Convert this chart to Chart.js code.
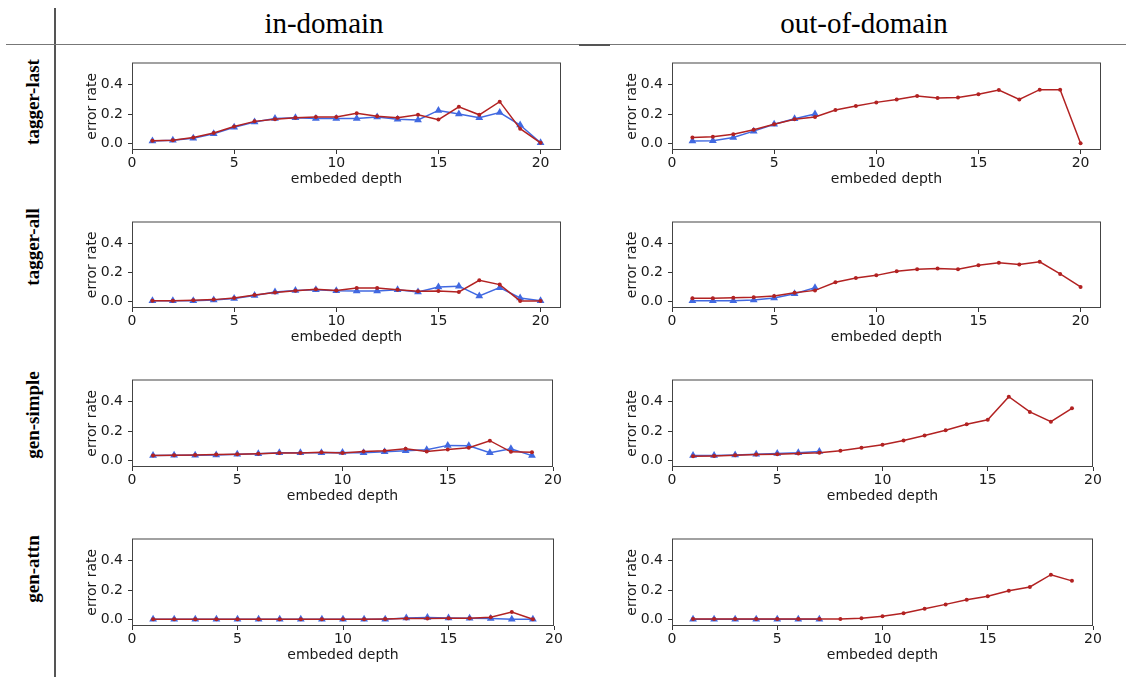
<!DOCTYPE html>
<html>
<head>
<meta charset="utf-8">
<title>error rate by embedded depth</title>
<script src="https://cdn.jsdelivr.net/npm/chart.js@4.4.1/dist/chart.umd.min.js"></script>
<style>
  html, body { margin: 0; padding: 0; background: #fff; }
  #page { position: relative; width: 1126px; height: 677px; overflow: hidden; }
  canvas { position: absolute; }
  .col-head {
    position: absolute; top: 6px; line-height: 34px;
    font-family: "Liberation Serif", "DejaVu Serif", serif; font-size: 29px; color: #000;
    transform: translateX(-50%); white-space: nowrap;
  }
  .row-head {
    position: absolute; left: 33px;
    font-family: "Liberation Serif", "DejaVu Serif", serif; font-weight: bold; font-size: 19px; color: #000;
    transform: translate(-50%, -50%) rotate(-90deg); white-space: nowrap;
  }
  .rule { position: absolute; background: #777; }
</style>
</head>
<body>
<div id="page">
  <div class="rule" style="left:54px; top:8px; width:1.5px; height:669px; background:#555;"></div>
  <div class="rule" style="left:6px; top:44px; width:1120px; height:1px;"></div>
  <div class="rule" style="left:579px; top:44px; width:31px; height:2px; background:#555;"></div>

  <div class="col-head" style="left:324px;">in-domain</div>
  <div class="col-head" style="left:864px;">out-of-domain</div>

  <div class="row-head" style="top:102px;">tagger-last</div>
  <div class="row-head" style="top:247px;">tagger-all</div>
  <div class="row-head" style="top:415px;">gen-simple</div>
  <div class="row-head" style="top:569px;">gen-attn</div>

  <!-- plot area starts 4.5px below each canvas top (point overflow padding) -->
  <canvas id="tlIn"  width="493" height="134" style="left:80px;  top:58px;"></canvas>
  <canvas id="tlOut" width="493" height="134" style="left:620px; top:58px;"></canvas>
  <canvas id="taIn"  width="493" height="133" style="left:80px;  top:217px;"></canvas>
  <canvas id="taOut" width="493" height="133" style="left:620px; top:217px;"></canvas>
  <canvas id="gsIn"  width="485" height="134" style="left:80px;  top:375px;"></canvas>
  <canvas id="gsOut" width="485" height="134" style="left:620px; top:375px;"></canvas>
  <canvas id="gaIn"  width="486" height="134" style="left:80px;  top:534px;"></canvas>
  <canvas id="gaOut" width="485" height="134" style="left:620px; top:534px;"></canvas>
</div>

<script>
// embedded depth values on the x axis
const depth20 = [1, 2, 3, 4, 5, 6, 7, 8, 9, 10, 11, 12, 13, 14, 15, 16, 17, 18, 19, 20];
const depth19 = [1, 2, 3, 4, 5, 6, 7, 8, 9, 10, 11, 12, 13, 14, 15, 16, 17, 18, 19];
const depth7 = [1, 2, 3, 4, 5, 6, 7];

const xTicks = [0, 5, 10, 15, 20];
const yTicks = [0, 0.2, 0.4];

// tagger-last
const tlInRed   = [0.018, 0.02, 0.04, 0.07, 0.115, 0.15, 0.165, 0.175, 0.18, 0.18, 0.205, 0.185, 0.175, 0.195, 0.162, 0.25, 0.195, 0.285, 0.10, 0.003];
const tlInBlue  = [0.015, 0.02, 0.035, 0.065, 0.11, 0.145, 0.17, 0.175, 0.17, 0.17, 0.17, 0.18, 0.165, 0.16, 0.225, 0.20, 0.175, 0.21, 0.125, 0.003];
const tlOutRed  = [0.04, 0.044, 0.062, 0.092, 0.13, 0.165, 0.18, 0.228, 0.255, 0.28, 0.30, 0.323, 0.31, 0.313, 0.335, 0.365, 0.30, 0.367, 0.367, 0.0];
const tlOutBlue = [0.016, 0.018, 0.04, 0.083, 0.13, 0.168, 0.20];

// tagger-all
const taInRed   = [0.005, 0.005, 0.007, 0.012, 0.023, 0.044, 0.062, 0.074, 0.083, 0.076, 0.092, 0.092, 0.08, 0.07, 0.072, 0.065, 0.146, 0.116, 0.003, 0.003];
const taInBlue  = [0.005, 0.005, 0.005, 0.01, 0.02, 0.04, 0.065, 0.075, 0.08, 0.074, 0.072, 0.072, 0.08, 0.065, 0.10, 0.105, 0.037, 0.095, 0.023, 0.005];
const taOutRed  = [0.021, 0.021, 0.025, 0.028, 0.037, 0.06, 0.076, 0.132, 0.162, 0.18, 0.208, 0.222, 0.228, 0.223, 0.25, 0.268, 0.256, 0.274, 0.19, 0.10];
const taOutBlue = [0.005, 0.005, 0.005, 0.01, 0.023, 0.053, 0.095];

// gen-simple
const gsInRed   = [0.032, 0.035, 0.037, 0.039, 0.042, 0.044, 0.049, 0.049, 0.055, 0.049, 0.06, 0.065, 0.079, 0.06, 0.074, 0.086, 0.134, 0.058, 0.055];
const gsInBlue  = [0.032, 0.035, 0.035, 0.037, 0.042, 0.044, 0.051, 0.051, 0.051, 0.053, 0.051, 0.058, 0.065, 0.072, 0.102, 0.10, 0.051, 0.079, 0.032];
const gsOutRed  = [0.028, 0.03, 0.035, 0.039, 0.042, 0.046, 0.051, 0.065, 0.086, 0.106, 0.136, 0.169, 0.206, 0.247, 0.277, 0.435, 0.331, 0.264, 0.356];
const gsOutBlue = [0.032, 0.032, 0.037, 0.042, 0.046, 0.051, 0.06];

// gen-attn
const gaInRed   = [0.001, 0.001, 0.001, 0.001, 0.001, 0.001, 0.001, 0.001, 0.001, 0.001, 0.001, 0.002, 0.005, 0.005, 0.007, 0.007, 0.014, 0.049, 0.0];
const gaInBlue  = [0.0, 0.0, 0.0, 0.0, 0.0, 0.0, 0.0, 0.0, 0.0, 0.0, 0.0, 0.0, 0.009, 0.012, 0.009, 0.007, 0.005, 0.0, 0.0];
const gaOutRed  = [0.002, 0.002, 0.002, 0.002, 0.002, 0.002, 0.002, 0.002, 0.007, 0.021, 0.042, 0.072, 0.102, 0.133, 0.158, 0.195, 0.221, 0.305, 0.263];
const gaOutBlue = [0.0, 0.0, 0.0, 0.0, 0.0, 0.0, 0.0];

const RED = '#b22222';
const BLUE = '#4169e1';
const INK = '#1a1a1a';
const FONT = { family: 'DejaVu Sans', size: 14 };

// box round the plot area, like a matplotlib axes frame
const framePlugin = {
  id: 'frame',
  afterDraw(chart) {
    const { ctx, chartArea: a } = chart;
    ctx.save();
    ctx.strokeStyle = '#444';
    ctx.lineWidth = 1;
    ctx.strokeRect(a.left + 0.5, a.top + 0.5, a.right - a.left - 1, a.bottom - a.top - 1);
    ctx.restore();
  }
};

function points(xs, ys) {
  return ys.map((v, i) => ({ x: xs[i], y: v }));
}

function drawPanel(id, redX, red, blueX, blue, xMax) {
  new Chart(document.getElementById(id), {
    type: 'line',
    data: {
      datasets: [
        {
          data: points(redX, red),
          borderColor: RED, backgroundColor: RED,
          borderWidth: 1.5, pointRadius: 2, pointBorderWidth: 0, pointStyle: 'circle'
        },
        {
          data: points(blueX, blue),
          borderColor: BLUE, backgroundColor: BLUE,
          borderWidth: 1.5, pointRadius: 4.5, pointBorderWidth: 0, pointStyle: 'triangle'
        }
      ]
    },
    options: {
      animation: false,
      responsive: false,
      devicePixelRatio: 1,
      layout: { padding: { top: 0, right: 12, bottom: 0, left: 0 } },
      elements: { line: { tension: 0 } },
      plugins: { legend: { display: false }, tooltip: { enabled: false } },
      scales: {
        x: {
          type: 'linear', min: 0, max: xMax,
          afterFit: s => { s.height = 42; s.paddingLeft = 0; s.paddingRight = 0; },
          afterBuildTicks: s => { s.ticks = xTicks.map(v => ({ value: v })); },
          grid: { drawOnChartArea: false, drawTicks: true, tickLength: 4, color: '#333' },
          border: { display: false },
          ticks: { padding: 1, color: INK, font: FONT, maxRotation: 0, autoSkip: false },
          title: { display: true, text: 'embeded depth', color: INK, font: FONT, padding: 4 }
        },
        y: {
          type: 'linear', min: -0.046, max: 0.553,
          afterFit: s => { s.width = 52; s.paddingTop = 0; s.paddingBottom = 0; },
          afterBuildTicks: s => { s.ticks = yTicks.map(v => ({ value: v })); },
          grid: { drawOnChartArea: false, drawTicks: true, tickLength: 4, color: '#333' },
          border: { display: false },
          ticks: { padding: 5, color: INK, font: FONT, callback: v => v.toFixed(1) },
          title: { display: true, text: 'error rate', color: INK, font: FONT, padding: 4 }
        }
      }
    },
    plugins: [framePlugin]
  });
}

drawPanel('tlIn',  depth20, tlInRed,  depth20, tlInBlue,  21);
drawPanel('tlOut', depth20, tlOutRed, depth7,  tlOutBlue, 21);
drawPanel('taIn',  depth20, taInRed,  depth20, taInBlue,  21);
drawPanel('taOut', depth20, taOutRed, depth7,  taOutBlue, 21);
drawPanel('gsIn',  depth19, gsInRed,  depth19, gsInBlue,  20);
drawPanel('gsOut', depth19, gsOutRed, depth7,  gsOutBlue, 20);
drawPanel('gaIn',  depth19, gaInRed,  depth19, gaInBlue,  20);
drawPanel('gaOut', depth19, gaOutRed, depth7,  gaOutBlue, 20);
</script>
</body>
</html>
